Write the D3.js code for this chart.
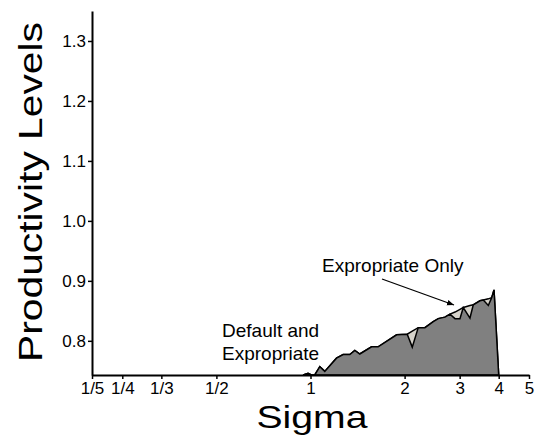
<!DOCTYPE html>
<html><head><meta charset="utf-8">
<script src="https://cdn.jsdelivr.net/npm/d3@7"></script>
<style>
html,body{margin:0;padding:0;background:#fff;}
text{font-family:"Liberation Sans",Arial,Helvetica,sans-serif;fill:#000;}
</style></head>
<body><svg id="c" width="535" height="444"></svg>
<script>
// Data
const sigma = [0.947,0.982,1.007,1.032,1.071,1.111,1.211,1.272,1.336,1.386,1.438,1.568,1.646,1.886,2.039,2.116,2.211,2.323,2.470,2.563,2.692,2.794,2.899,3.007,3.081,3.237,3.317,3.485,3.571,3.705,3.799,3.864,4.0];
const expropriateOnly = [0.743,0.746,0.743,0.743,0.757,0.749,0.771,0.777,0.777,0.784,0.778,0.790,0.790,0.810,0.811,0.816,0.822,0.822,0.832,0.837,0.8395,0.8445,0.848,0.8525,0.8555,0.859,0.860,0.8667,0.868,0.870,0.872,0.885,0.743];
const defaultAndExpropriate = [0.743,0.746,0.743,0.743,0.757,0.749,0.771,0.777,0.777,0.784,0.778,0.790,0.790,0.810,0.811,0.7895,0.822,0.822,0.832,0.837,0.8395,0.8445,0.837,0.837,0.8555,0.838,0.860,0.8667,0.868,0.859,0.872,0.885,0.743];
const xTickValues = [0.2,0.25,1/3,0.5,1,2,3,4,5];
const xTickLabels = ["1/5","1/4","1/3","1/2","1","2","3","4","5"];
const yTickValues = [0.8,0.9,1.0,1.1,1.2,1.3];

const svg = d3.select("#c");
const x = d3.scaleLog().domain([0.2,5]).range([92,529]);
const y = d3.scaleLinear().domain([0.743,1.35]).range([375,11]);

const upper = sigma.map((s,i)=>({s, v:expropriateOnly[i]}));
const lower = sigma.map((s,i)=>({s, v:defaultAndExpropriate[i]}));

const area = d3.area().x(d=>x(d.s)).y0(y(0.743)).y1(d=>y(d.v));
svg.append("path").datum(upper).attr("d",area)
  .attr("fill","#d6d3cb").attr("stroke","#000").attr("stroke-width",1.5).attr("stroke-linejoin","miter");
svg.append("path").datum(lower).attr("d",area)
  .attr("fill","#808080").attr("stroke","#000").attr("stroke-width",1.5).attr("stroke-linejoin","miter");

// Axes
const xa = svg.append("g").attr("transform","translate(0,375)")
  .call(d3.axisBottom(x).tickValues(xTickValues).tickFormat((d,i)=>xTickLabels[i]).tickSize(4).tickSizeOuter(0).tickPadding(3));
const ya = svg.append("g").attr("transform","translate(92,0)")
  .call(d3.axisLeft(y).tickValues(yTickValues).tickFormat(d3.format(".1f")).tickSize(4).tickSizeOuter(0).tickPadding(2));
[xa,ya].forEach(g=>{
  g.select(".domain").attr("stroke","#000").attr("stroke-width",2);
  g.selectAll(".tick line").attr("stroke","#000").attr("stroke-width",1.5);
  g.selectAll(".tick text").attr("font-size",17).attr("font-family","Liberation Sans, Arial, sans-serif").attr("fill","#000");
});

// Axis titles
svg.append("text").attr("x",312).attr("y",428).attr("text-anchor","middle")
  .attr("font-size",32).attr("textLength",111).attr("lengthAdjust","spacingAndGlyphs").text("Sigma");
svg.append("text").attr("transform","translate(42,192) rotate(-90)").attr("text-anchor","middle")
  .attr("font-size",34).attr("textLength",340).attr("lengthAdjust","spacingAndGlyphs").text("Productivity Levels");

// Annotations
svg.append("text").attr("x",322).attr("y",272).attr("font-size",19).text("Expropriate Only");
svg.append("text").attr("x",222).attr("y",337).attr("font-size",19).text("Default and");
svg.append("text").attr("x",222).attr("y",360).attr("font-size",19).text("Expropriate");

svg.append("defs").append("marker").attr("id","ah").attr("viewBox","0 0 10 10").attr("refX",10).attr("refY",5)
  .attr("markerWidth",7).attr("markerHeight",7).attr("markerUnits","userSpaceOnUse").attr("orient","auto")
  .append("path").attr("d","M0,1 L10,5 L0,9 Z").attr("fill","#000");
svg.append("line").attr("x1",382).attr("y1",279).attr("x2",454).attr("y2",305)
  .attr("stroke","#000").attr("stroke-width",1.3).attr("marker-end","url(#ah)");
</script></body></html>
